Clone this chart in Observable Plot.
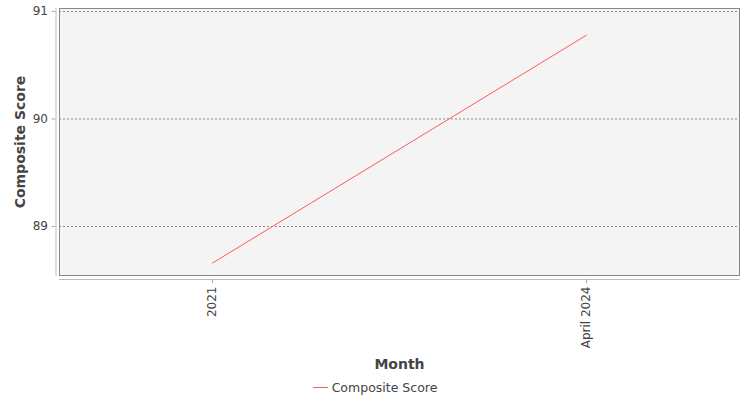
<!DOCTYPE html>
<html>
<head>
<meta charset="utf-8">
<script src="https://cdn.jsdelivr.net/npm/d3@7"></script>
<script src="https://cdn.jsdelivr.net/npm/@observablehq/plot@0.6"></script>
<style>
  html, body { margin: 0; padding: 0; background: #fff; }
  body { width: 750px; height: 400px; overflow: hidden; font-family: "DejaVu Sans", sans-serif; }
  #legend { height: 25px; display: flex; align-items: center; justify-content: center; gap: 4px; font-size: 12.5px; color: #444; }
  #legend .sw { width: 15px; height: 0; border-top: 1px solid #ff5b5b; }
</style>
</head>
<body>
<div id="chart"></div>
<div id="legend"><span class="sw"></span><span>Composite Score</span></div>
<script>
const months = ["2021", "April 2024"];
const scores = [88.66, 90.78];
const yTicks = [89, 90, 91];
const seriesName = "Composite Score";
const xTitle = "Month";
const yTitle = "Composite Score";

const data = months.map((m, i) => ({month: m, score: scores[i]}));

const chart = Plot.plot({
  width: 750,
  height: 375,
  marginTop: 8,
  marginLeft: 59,
  marginRight: 11,
  marginBottom: 100,
  style: {fontFamily: "DejaVu Sans, sans-serif", fontSize: "12px", color: "#444", background: "#fff"},
  x: {type: "point", domain: months, padding: 0.408},
  y: {domain: [88.544, 91.028]},
  marks: [
    Plot.frame({fill: "#f4f4f4", stroke: "none"}),
    Plot.gridY(yTicks, {stroke: "#888", strokeOpacity: 1, strokeDasharray: "2,2"}),
    Plot.frame({stroke: "#888"}),
    Plot.frame({anchor: "left", dx: -3.5, stroke: "#bbb"}),
    Plot.frame({anchor: "bottom", dy: 4, stroke: "#bbb"}),
    Plot.line(data, {x: "month", y: "score", stroke: "#ff5b5b", strokeWidth: 1}),
    Plot.axisY(yTicks, {tickSize: 4, dx: -3.5, tickPadding: 4, fontSize: 12, label: null, tickFormat: d3.format("d"), stroke: "#aaa", fill: "#444"}),
    Plot.axisX({tickSize: 4, dy: 4, tickRotate: -90, tickPadding: 3, fontSize: 12, label: null, stroke: "#aaa", fill: "#444"}),
    Plot.text([yTitle], {frameAnchor: "left", textAnchor: "middle", lineAnchor: "middle", dx: -39, rotate: -90, fontSize: 14, fontWeight: "bold", fill: "#444"}),
    Plot.text([xTitle], {frameAnchor: "bottom", textAnchor: "middle", lineAnchor: "middle", dy: 89, fontSize: 14, fontWeight: "bold", fill: "#444"})
  ]
});
document.getElementById("chart").appendChild(chart);
</script>
</body>
</html>
